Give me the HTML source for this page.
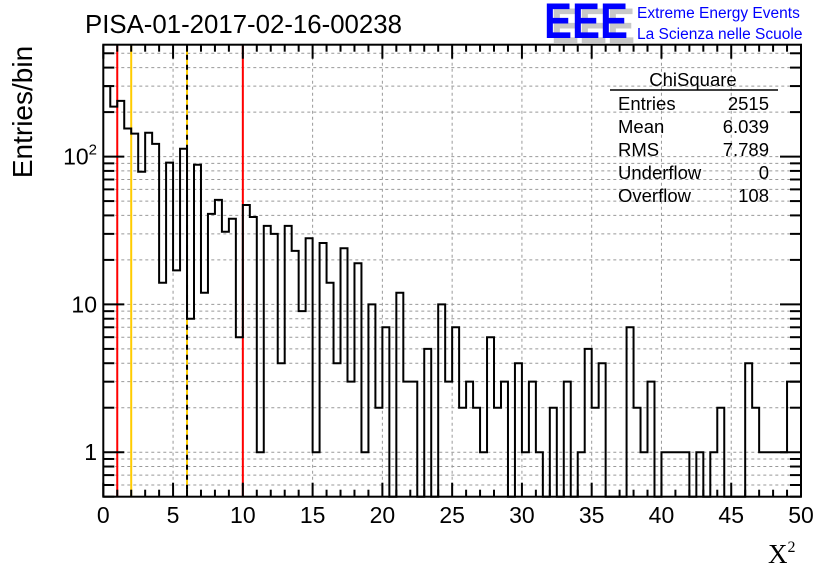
<!DOCTYPE html>
<html><head><meta charset="utf-8"><style>
html,body{margin:0;padding:0;background:#fff;}
svg{display:block;font-family:"Liberation Sans",sans-serif;}
</style></head><body>
<svg id="chart" width="836" height="572" viewBox="0 0 836 572" xmlns="http://www.w3.org/2000/svg">
<rect width="836" height="572" fill="#fff"/>
<text x="85" y="33" font-size="25.8">PISA-01-2017-02-16-00238</text>
<g>
<text x="551" y="43" font-size="50" font-weight="bold" fill="#c8c8c8" textLength="84" lengthAdjust="spacingAndGlyphs">EEE</text>
<text x="544" y="38" font-size="50" font-weight="bold" fill="#0000ff" textLength="84" lengthAdjust="spacingAndGlyphs">EEE</text>
<text x="637" y="18" font-size="15.5" fill="#0000ff">Extreme Energy Events</text>
<text x="637" y="39" font-size="15.5" fill="#0000ff">La Scienza nelle Scuole</text>
</g>
<g id="grid"></g><g id="vlines"></g><g id="hist"></g><g id="axes"></g>
<g font-size="18.5">
<text x="693" y="86" text-anchor="middle">ChiSquare</text>
<line x1="610" y1="90" x2="778" y2="90" stroke="#000" stroke-width="1.5"/>
<text x="618" y="110">Entries</text><text x="769" y="110" text-anchor="end">2515</text>
<text x="618" y="133">Mean</text><text x="769" y="133" text-anchor="end">6.039</text>
<text x="618" y="156">RMS</text><text x="769" y="156" text-anchor="end">7.789</text>
<text x="618" y="179">Underflow</text><text x="769" y="179" text-anchor="end">0</text>
<text x="618" y="202">Overflow</text><text x="769" y="202" text-anchor="end">108</text>
</g>
<text transform="translate(32,112) rotate(-90)" text-anchor="middle" font-size="28">Entries/bin</text>
<text x="768" y="563" font-size="27" font-family="Liberation Serif,serif">X<tspan font-size="16" dy="-11">2</tspan></text>
</svg>
<script>
const binCounts = [300,218,238,155,143,79,145,122,14,91,17,113,8,88,12,41,51,31,38,6,
47,39,1,34,30,4,34,23,9,28,1,26,14,4,24,3,19,1,10,2,
7,0,12,3,3,0,5,0,10,3,7,2,3,2,1,6,2,3,0,4,
1,3,1,0,2,0,3,0,1,5,2,4,0,0,0,7,2,1,3,0,
1,1,1,1,0,1,0,1,2,0,0,0,4,2,1,1,1,1,3,3];
const binLow = 0, binWidth = 0.5;
const xTickLabels = [0,5,10,15,20,25,30,35,40,45,50];
const yTickValues = [1,10,100];
const yTickLabels = ["1","10","10²"];
const refLines = [1,2,6,10];

const X0=103.3, X1=801, Y0=496.7, Y1=44.7, XMIN=0, XMAX=50, LYMIN=Math.log10(0.5), LYMAX=2.757;
const sx = v => X0 + (v-XMIN)/(XMAX-XMIN)*(X1-X0);
const sy = v => Y0 - (Math.log10(v)-LYMIN)/(LYMAX-LYMIN)*(Y0-Y1);
const NS="http://www.w3.org/2000/svg";
function mk(tag, attrs, parent){const e=document.createElementNS(NS,tag);for(const k in attrs)e.setAttribute(k,attrs[k]);parent.appendChild(e);return e;}

const grid=document.getElementById('grid');
for(const t of xTickLabels){ if(t===XMIN||t===XMAX) continue;
  const l=mk('line',{x1:sx(t),x2:sx(t),y1:Y1,y2:Y0,stroke:'#999','stroke-dasharray':'3,3'},grid);
  
  
}
for(let d=0.1; d<1000; d*=10){ for(let m=1;m<10;m++){ const v=d*m; if(v<0.5||Math.log10(v)>LYMAX) continue; if(v===0.5) continue;
  const l=mk('line',{x1:X0,x2:X1,y1:sy(v),y2:sy(v),stroke:'#999','stroke-dasharray':'3,3'},grid);
  
  
}}

const vl=document.getElementById('vlines');
const lineColors=['#ff0000','#ffcc00','#ffcc00','#ff0000'];
refLines.forEach((v,i)=>{
  const l=mk('line',{x1:sx(v),x2:sx(v),y1:Y1,y2:Y0,stroke:lineColors[i],'stroke-width':2},vl);
  
  
  if(v===6){ const d=mk('line',{x1:sx(v),x2:sx(v),y1:Y1,y2:Y0,stroke:'#000','stroke-width':2,'stroke-dasharray':'5,5'},vl);
    
     }
});

const hist=document.getElementById('hist');
const yOf = c => c>0 ? sy(c) : Y0;
let d = 'M'+X0+','+yOf(binCounts[0]);
binCounts.forEach((c,i)=>{
  const xa=sx(binLow+i*binWidth), xb=sx(binLow+(i+1)*binWidth);
  d += ' L'+xa+','+yOf(c)+' L'+xb+','+yOf(c);
});
const path=mk('path',{d:d,fill:'none',stroke:'#000','stroke-width':2},hist);



const ax=document.getElementById('axes');
const fr=mk('rect',{x:X0,y:Y1,width:X1-X0,height:Y0-Y1,fill:'none',stroke:'#000','stroke-width':2},ax);


for(let t=XMIN;t<=XMAX;t+=1){ const big=(t%5===0); const len=big?14:7;
  mk('line',{x1:sx(t),x2:sx(t),y1:Y0,y2:Y0-len,stroke:'#000','stroke-width':2},ax);
  mk('line',{x1:sx(t),x2:sx(t),y1:Y1,y2:Y1+len,stroke:'#000','stroke-width':2},ax);
}
xTickLabels.forEach(t=>{
  const tx=mk('text',{x:sx(t),y:523,'text-anchor':'middle','font-size':23},ax);
  tx.textContent=t;
  
  
});
for(let dd=0.1; dd<1000; dd*=10){ for(let m=1;m<10;m++){ const v=dd*m; if(v<0.5||Math.log10(v)>LYMAX) continue;
  const len=(m===1)?21:11;
  mk('line',{x1:X0,x2:X0+len,y1:sy(v),y2:sy(v),stroke:'#000','stroke-width':2},ax);
  mk('line',{x1:X1,x2:X1-len,y1:sy(v),y2:sy(v),stroke:'#000','stroke-width':2},ax);
}}
yTickValues.forEach((v,i)=>{
  const tx=mk('text',{x:97,y:sy(v)+8,'text-anchor':'end','font-size':23},ax);
  if(i===2){ tx.textContent='10'; const ts=mk('tspan',{dy:-10,'font-size':15},tx); ts.textContent='2'; }
  else tx.textContent=yTickLabels[i];
  
  
});
</script>
</body></html>
